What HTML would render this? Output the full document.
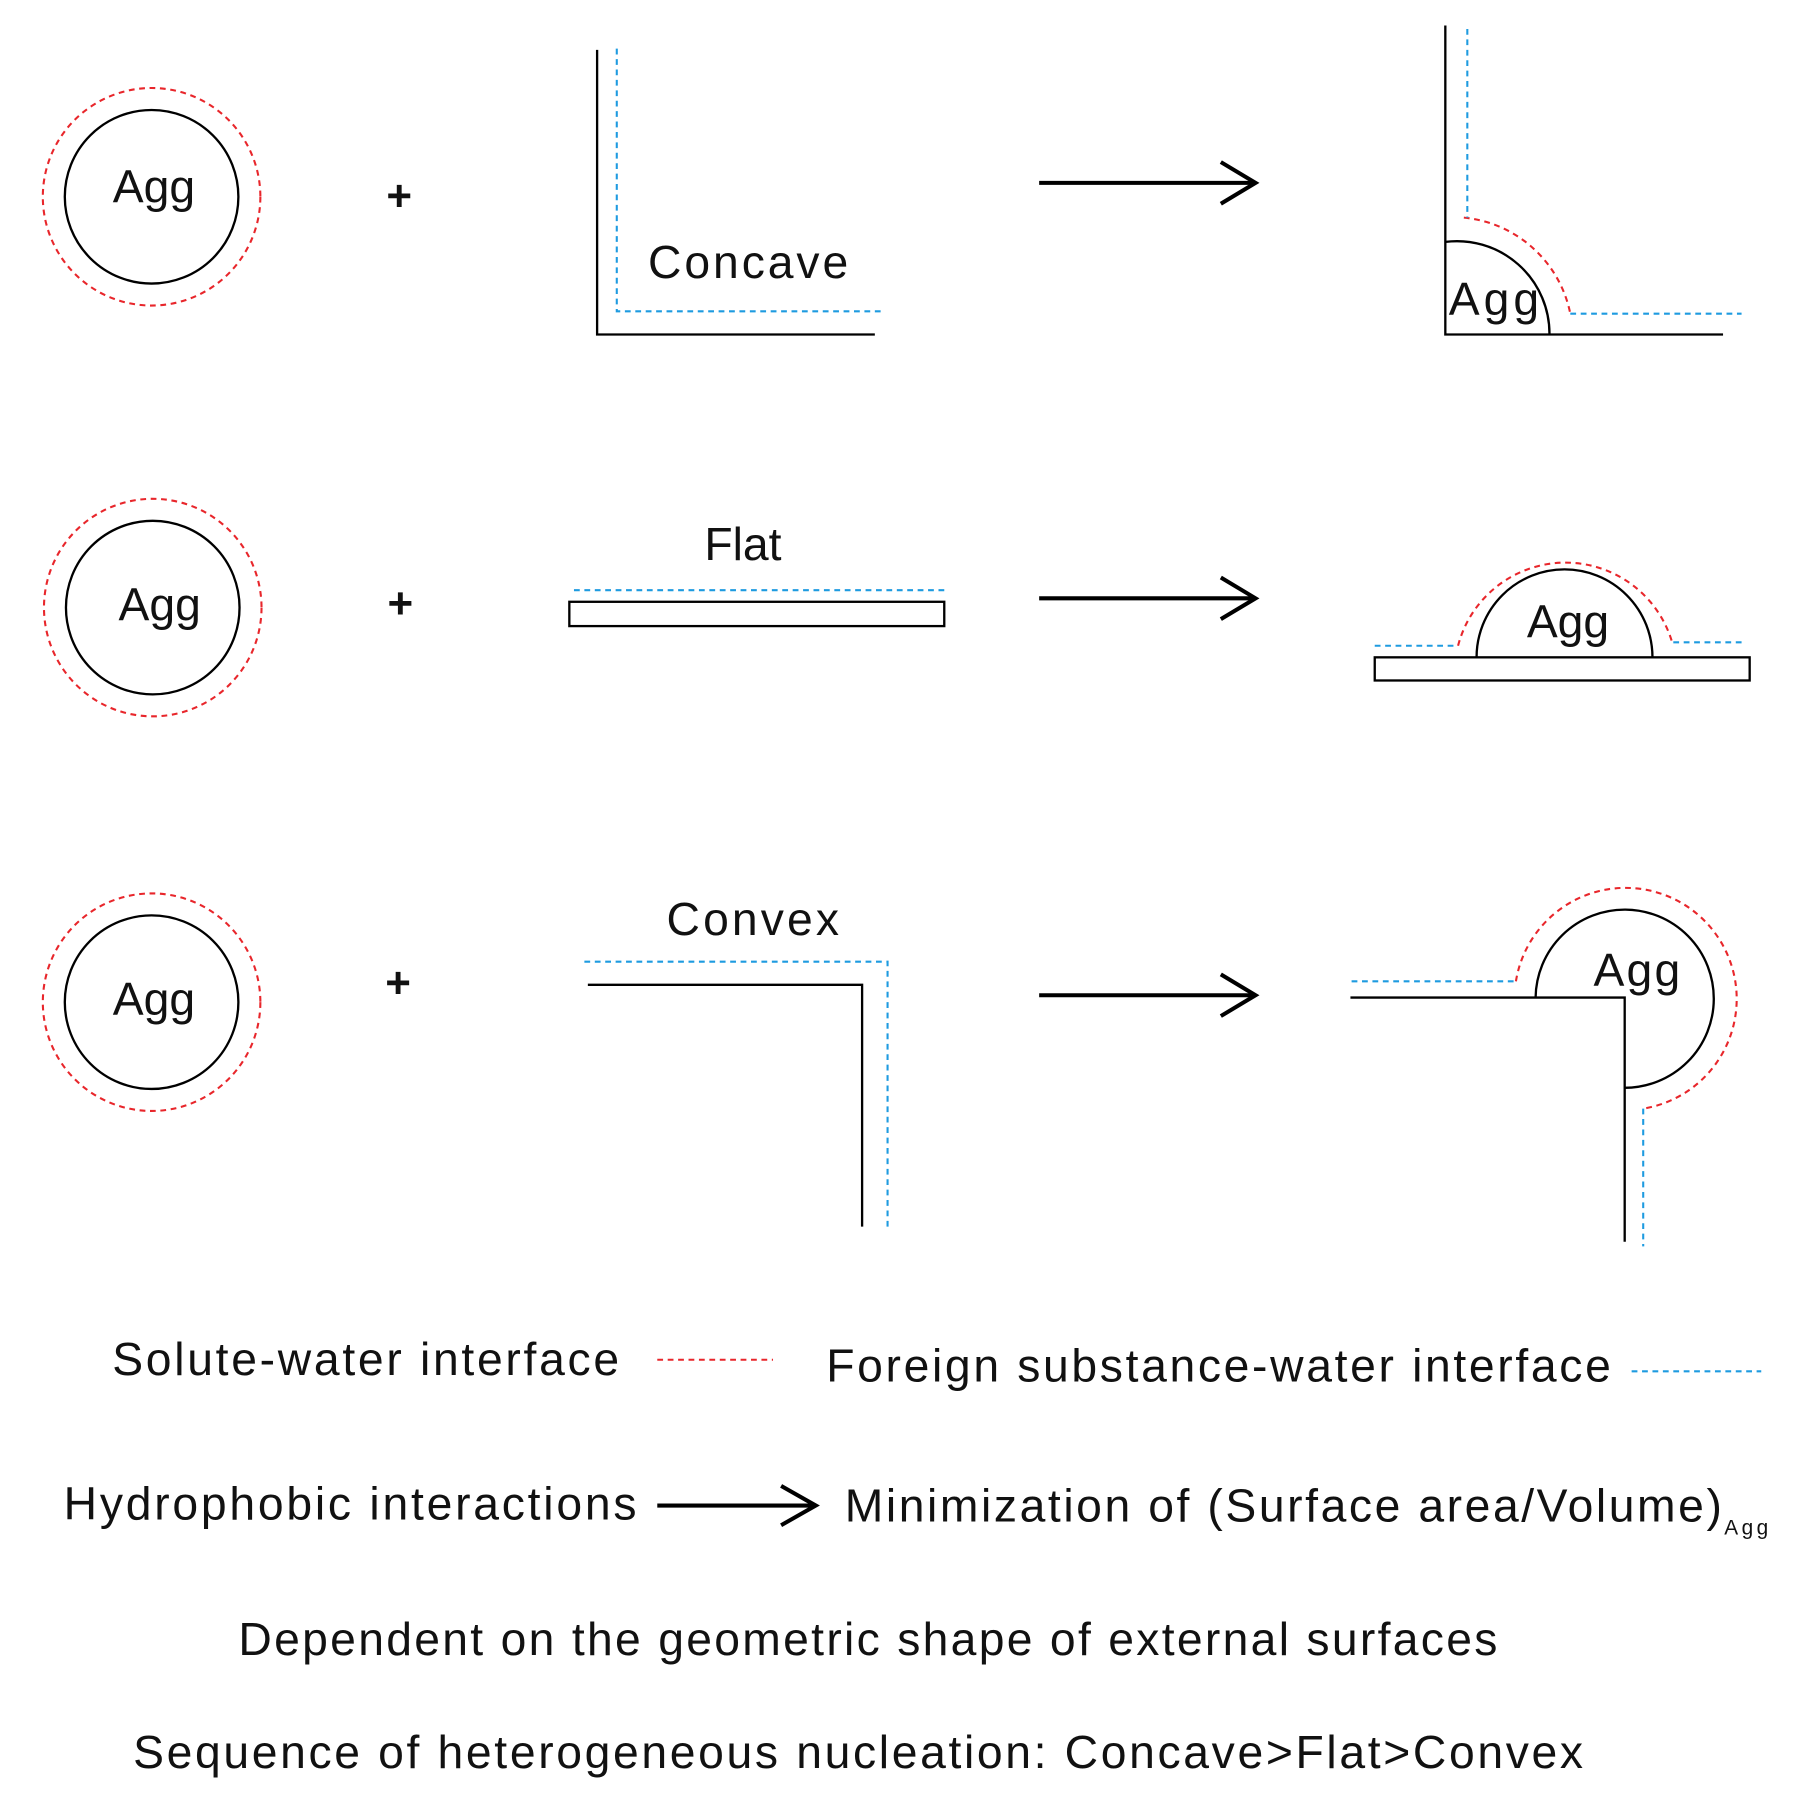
<!DOCTYPE html>
<html><head><meta charset="utf-8"><style>html,body{margin:0;padding:0;background:#fff}svg{display:block}</style></head>
<body>
<svg width="1811" height="1814" viewBox="0 0 1565 1567.5" xmlns="http://www.w3.org/2000/svg" font-family="Liberation Sans, sans-serif" fill="none">
<g stroke="#000" stroke-width="2">
<circle cx="131" cy="170" r="75"/>
<circle cx="132" cy="525" r="75"/>
<circle cx="131" cy="866" r="75"/>
<polyline points="516,43 516,289 756,289"/>
<polyline points="1249,22 1249,289 1489,289"/>
<path d="M1249,209 A80,80 0 0 1 1339,289"/>
<rect x="492" y="520" width="324" height="21"/>
<rect x="1188" y="568" width="324" height="20"/>
<path d="M1276,568 A76,76 0 0 1 1428,568"/>
<polyline points="508,851 745,851 745,1060"/>
<polyline points="1167,862 1404,862 1404,1073"/>
<path d="M1327,862 A77,77 0 1 1 1404,940"/>
</g>
<g stroke="#000" stroke-width="3.5" stroke-linejoin="miter">
<line x1="898" y1="158" x2="1083" y2="158"/><polyline points="1055,140 1085,158 1055,176"/>
<line x1="898" y1="517" x2="1083" y2="517"/><polyline points="1055,499 1085,517 1055,535"/>
<line x1="898" y1="860" x2="1083" y2="860"/><polyline points="1055,842 1085,860 1055,878"/>
<line x1="568" y1="1301" x2="703" y2="1301"/><polyline points="675,1284 705,1301 675,1318"/>
</g>
<g stroke="#e8262b" stroke-width="1.8" stroke-dasharray="5,4">
<circle cx="131" cy="170" r="94"/>
<circle cx="132" cy="525" r="94"/>
<circle cx="131" cy="866" r="94"/>
<path d="M1265,188 A104,104 0 0 1 1357,271"/>
<path d="M1260,558 A96,96 0 0 1 1445,555"/>
<path d="M1310,848 A96,96 0 1 1 1420,958"/>
<line x1="568" y1="1175" x2="668" y2="1175"/>
</g>
<g stroke="#1e9be0" stroke-width="1.8" stroke-dasharray="5,4">
<polyline points="533,42 533,269 762,269"/>
<line x1="1268" y1="25" x2="1268" y2="188"/>
<line x1="1357" y1="271" x2="1505" y2="271"/>
<line x1="496" y1="510" x2="816" y2="510"/>
<line x1="1188" y1="558" x2="1258" y2="558"/>
<line x1="1446" y1="555" x2="1508" y2="555"/>
<polyline points="505,831 767,831 767,1060"/>
<line x1="1168" y1="848" x2="1308" y2="848"/>
<line x1="1420" y1="958" x2="1420" y2="1077"/>
<line x1="1410" y1="1185" x2="1522" y2="1185"/>
</g>
<g fill="#111" font-size="40">
<text x="133" y="175" text-anchor="middle">Agg</text>
<text x="138" y="536" text-anchor="middle">Agg</text>
<text x="133" y="877" text-anchor="middle">Agg</text>
<text x="345" y="182" text-anchor="middle" font-size="38" font-weight="bold">+</text>
<text x="346" y="534" text-anchor="middle" font-size="38" font-weight="bold">+</text>
<text x="344" y="862" text-anchor="middle" font-size="38" font-weight="bold">+</text>
<text x="560" y="240" textLength="173">Concave</text>
<text x="642" y="484" text-anchor="middle">Flat</text>
<text x="576" y="808" textLength="149">Convex</text>
<text x="1252" y="272" textLength="78">Agg</text>
<text x="1355" y="551" text-anchor="middle">Agg</text>
<text x="1377" y="852" textLength="75">Agg</text>
<text x="97" y="1188" textLength="438">Solute-water interface</text>
<text x="714" y="1194" textLength="678">Foreign substance-water interface</text>
<text x="55" y="1313" textLength="495">Hydrophobic interactions</text>
<text x="730" y="1315" textLength="758">Minimization of (Surface area/Volume)</text>
<text x="1490" y="1326" font-size="18" textLength="38">Agg</text>
<text x="206" y="1430" textLength="1088">Dependent on the geometric shape of external surfaces</text>
<text x="115" y="1528" textLength="1253">Sequence of heterogeneous nucleation: Concave&gt;Flat&gt;Convex</text>
</g>
</svg>
</body></html>
